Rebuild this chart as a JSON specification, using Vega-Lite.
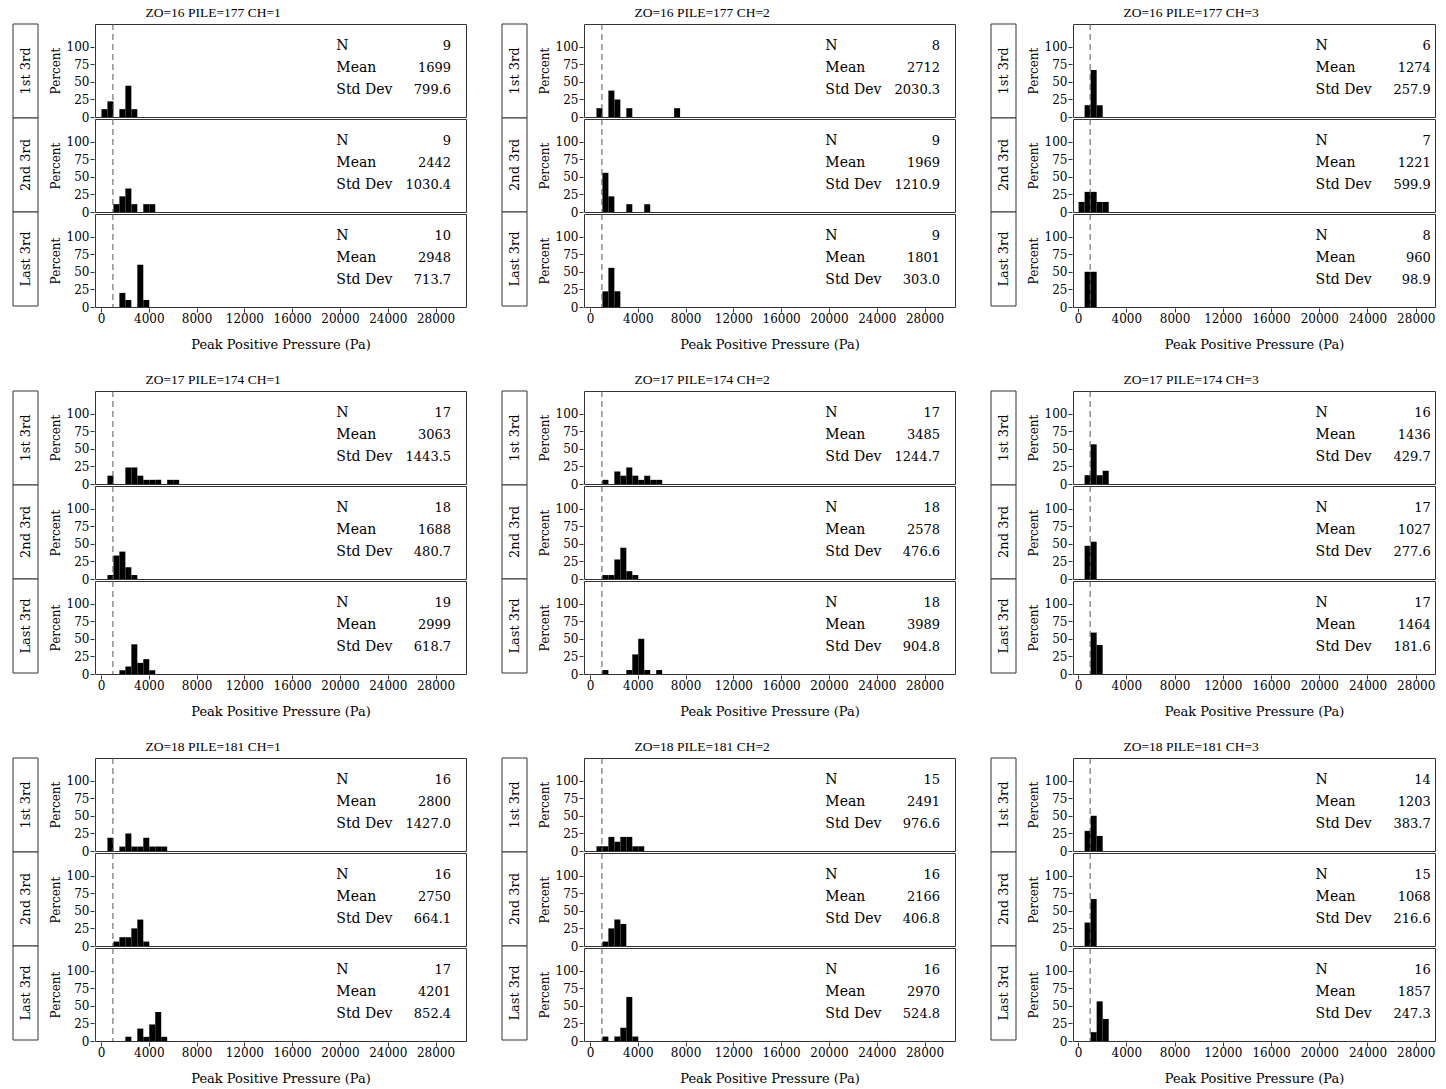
{
"$schema": "https://vega.github.io/schema/vega-lite/v6.json",
"padding": {"left": 12, "top": 5, "right": 0, "bottom": 0},
"config": {
 "font": "DejaVu Serif",
 "view": {"stroke": "#333", "strokeWidth": 1},
 "axis": {"grid": false, "domain": false, "tickColor": "#333", "tickSize": 4, "labelFontSize": 12, "titleFontSize": 13, "titleFontWeight": "normal", "labelColor": "black", "titleColor": "black", "labelPadding": 1, "labelFont": "DejaVu Serif", "titleFont": "DejaVu Serif", "labelOverlap": false},
 "axisY": {"titlePadding": 4, "titleFontSize": 12, "labelOverlap": false},
 "axisX": {"titlePadding": 14},
 "bar": {"binSpacing": 0},
 "title": {"fontSize": 13.5, "fontWeight": "normal", "anchor": "start", "offset": 4, "font": "Liberation Serif", "color": "black"},
 "text": {"fontSize": 14, "font": "DejaVu Serif", "color": "black"}
},
"datasets": {
 "labs": [{"t": "1st 3rd"}, {"t": "2nd 3rd"}, {"t": "Last 3rd"}],
 "d": [
  {"p":"16-1","t":"1st 3rd","n":"9","m":"1699","s":"799.6"},
  {"p":"16-1","t":"2nd 3rd","n":"9","m":"2442","s":"1030.4"},
  {"p":"16-1","t":"Last 3rd","n":"10","m":"2948","s":"713.7"},
  {"p":"16-2","t":"1st 3rd","n":"8","m":"2712","s":"2030.3"},
  {"p":"16-2","t":"2nd 3rd","n":"9","m":"1969","s":"1210.9"},
  {"p":"16-2","t":"Last 3rd","n":"9","m":"1801","s":"303.0"},
  {"p":"16-3","t":"1st 3rd","n":"6","m":"1274","s":"257.9"},
  {"p":"16-3","t":"2nd 3rd","n":"7","m":"1221","s":"599.9"},
  {"p":"16-3","t":"Last 3rd","n":"8","m":"960","s":"98.9"},
  {"p":"17-1","t":"1st 3rd","n":"17","m":"3063","s":"1443.5"},
  {"p":"17-1","t":"2nd 3rd","n":"18","m":"1688","s":"480.7"},
  {"p":"17-1","t":"Last 3rd","n":"19","m":"2999","s":"618.7"},
  {"p":"17-2","t":"1st 3rd","n":"17","m":"3485","s":"1244.7"},
  {"p":"17-2","t":"2nd 3rd","n":"18","m":"2578","s":"476.6"},
  {"p":"17-2","t":"Last 3rd","n":"18","m":"3989","s":"904.8"},
  {"p":"17-3","t":"1st 3rd","n":"16","m":"1436","s":"429.7"},
  {"p":"17-3","t":"2nd 3rd","n":"17","m":"1027","s":"277.6"},
  {"p":"17-3","t":"Last 3rd","n":"17","m":"1464","s":"181.6"},
  {"p":"18-1","t":"1st 3rd","n":"16","m":"2800","s":"1427.0"},
  {"p":"18-1","t":"2nd 3rd","n":"16","m":"2750","s":"664.1"},
  {"p":"18-1","t":"Last 3rd","n":"17","m":"4201","s":"852.4"},
  {"p":"18-2","t":"1st 3rd","n":"15","m":"2491","s":"976.6"},
  {"p":"18-2","t":"2nd 3rd","n":"16","m":"2166","s":"406.8"},
  {"p":"18-2","t":"Last 3rd","n":"16","m":"2970","s":"524.8"},
  {"p":"18-3","t":"1st 3rd","n":"14","m":"1203","s":"383.7"},
  {"p":"18-3","t":"2nd 3rd","n":"15","m":"1068","s":"216.6"},
  {"p":"18-3","t":"Last 3rd","n":"16","m":"1857","s":"247.3"},

  {"p":"16-1","t":"1st 3rd","lo":0,"v":11.1},
  {"p":"16-1","t":"1st 3rd","lo":500,"v":22.2},
  {"p":"16-1","t":"1st 3rd","lo":1500,"v":11.1},
  {"p":"16-1","t":"1st 3rd","lo":2000,"v":44.4},
  {"p":"16-1","t":"1st 3rd","lo":2500,"v":11.1},
  {"p":"16-1","t":"2nd 3rd","lo":1000,"v":11.1},
  {"p":"16-1","t":"2nd 3rd","lo":1500,"v":22.2},
  {"p":"16-1","t":"2nd 3rd","lo":2000,"v":33.3},
  {"p":"16-1","t":"2nd 3rd","lo":2500,"v":11.1},
  {"p":"16-1","t":"2nd 3rd","lo":3500,"v":11.1},
  {"p":"16-1","t":"2nd 3rd","lo":4000,"v":11.1},
  {"p":"16-1","t":"Last 3rd","lo":1500,"v":20},
  {"p":"16-1","t":"Last 3rd","lo":2000,"v":10},
  {"p":"16-1","t":"Last 3rd","lo":3000,"v":60},
  {"p":"16-1","t":"Last 3rd","lo":3500,"v":10},

  {"p":"16-2","t":"1st 3rd","lo":500,"v":12.5},
  {"p":"16-2","t":"1st 3rd","lo":1500,"v":37.5},
  {"p":"16-2","t":"1st 3rd","lo":2000,"v":25},
  {"p":"16-2","t":"1st 3rd","lo":3000,"v":12.5},
  {"p":"16-2","t":"1st 3rd","lo":7000,"v":12.5},
  {"p":"16-2","t":"2nd 3rd","lo":1000,"v":55.6},
  {"p":"16-2","t":"2nd 3rd","lo":1500,"v":22.2},
  {"p":"16-2","t":"2nd 3rd","lo":3000,"v":11.1},
  {"p":"16-2","t":"2nd 3rd","lo":4500,"v":11.1},
  {"p":"16-2","t":"Last 3rd","lo":1000,"v":22.2},
  {"p":"16-2","t":"Last 3rd","lo":1500,"v":55.6},
  {"p":"16-2","t":"Last 3rd","lo":2000,"v":22.2},

  {"p":"16-3","t":"1st 3rd","lo":500,"v":16.7},
  {"p":"16-3","t":"1st 3rd","lo":1000,"v":66.7},
  {"p":"16-3","t":"1st 3rd","lo":1500,"v":16.7},
  {"p":"16-3","t":"2nd 3rd","lo":0,"v":14.3},
  {"p":"16-3","t":"2nd 3rd","lo":500,"v":28.6},
  {"p":"16-3","t":"2nd 3rd","lo":1000,"v":28.6},
  {"p":"16-3","t":"2nd 3rd","lo":1500,"v":14.3},
  {"p":"16-3","t":"2nd 3rd","lo":2000,"v":14.3},
  {"p":"16-3","t":"Last 3rd","lo":500,"v":50},
  {"p":"16-3","t":"Last 3rd","lo":1000,"v":50},

  {"p":"17-1","t":"1st 3rd","lo":500,"v":11.8},
  {"p":"17-1","t":"1st 3rd","lo":2000,"v":23.5},
  {"p":"17-1","t":"1st 3rd","lo":2500,"v":23.5},
  {"p":"17-1","t":"1st 3rd","lo":3000,"v":11.8},
  {"p":"17-1","t":"1st 3rd","lo":3500,"v":5.9},
  {"p":"17-1","t":"1st 3rd","lo":4000,"v":5.9},
  {"p":"17-1","t":"1st 3rd","lo":4500,"v":5.9},
  {"p":"17-1","t":"1st 3rd","lo":5500,"v":5.9},
  {"p":"17-1","t":"1st 3rd","lo":6000,"v":5.9},
  {"p":"17-1","t":"2nd 3rd","lo":500,"v":5.6},
  {"p":"17-1","t":"2nd 3rd","lo":1000,"v":33.3},
  {"p":"17-1","t":"2nd 3rd","lo":1500,"v":38.9},
  {"p":"17-1","t":"2nd 3rd","lo":2000,"v":16.7},
  {"p":"17-1","t":"2nd 3rd","lo":2500,"v":5.6},
  {"p":"17-1","t":"Last 3rd","lo":1500,"v":5.3},
  {"p":"17-1","t":"Last 3rd","lo":2000,"v":10.5},
  {"p":"17-1","t":"Last 3rd","lo":2500,"v":42.1},
  {"p":"17-1","t":"Last 3rd","lo":3000,"v":15.8},
  {"p":"17-1","t":"Last 3rd","lo":3500,"v":21.1},
  {"p":"17-1","t":"Last 3rd","lo":4000,"v":5.3},

  {"p":"17-2","t":"1st 3rd","lo":1000,"v":5.9},
  {"p":"17-2","t":"1st 3rd","lo":2000,"v":17.6},
  {"p":"17-2","t":"1st 3rd","lo":2500,"v":11.8},
  {"p":"17-2","t":"1st 3rd","lo":3000,"v":23.5},
  {"p":"17-2","t":"1st 3rd","lo":3500,"v":11.8},
  {"p":"17-2","t":"1st 3rd","lo":4000,"v":5.9},
  {"p":"17-2","t":"1st 3rd","lo":4500,"v":11.8},
  {"p":"17-2","t":"1st 3rd","lo":5000,"v":5.9},
  {"p":"17-2","t":"1st 3rd","lo":5500,"v":5.9},
  {"p":"17-2","t":"2nd 3rd","lo":1000,"v":5.6},
  {"p":"17-2","t":"2nd 3rd","lo":1500,"v":5.6},
  {"p":"17-2","t":"2nd 3rd","lo":2000,"v":27.8},
  {"p":"17-2","t":"2nd 3rd","lo":2500,"v":44.4},
  {"p":"17-2","t":"2nd 3rd","lo":3000,"v":11.1},
  {"p":"17-2","t":"2nd 3rd","lo":3500,"v":5.6},
  {"p":"17-2","t":"Last 3rd","lo":1000,"v":5.6},
  {"p":"17-2","t":"Last 3rd","lo":3000,"v":5.6},
  {"p":"17-2","t":"Last 3rd","lo":3500,"v":27.8},
  {"p":"17-2","t":"Last 3rd","lo":4000,"v":50},
  {"p":"17-2","t":"Last 3rd","lo":4500,"v":5.6},
  {"p":"17-2","t":"Last 3rd","lo":5500,"v":5.6},

  {"p":"17-3","t":"1st 3rd","lo":500,"v":12.5},
  {"p":"17-3","t":"1st 3rd","lo":1000,"v":56.3},
  {"p":"17-3","t":"1st 3rd","lo":1500,"v":12.5},
  {"p":"17-3","t":"1st 3rd","lo":2000,"v":18.8},
  {"p":"17-3","t":"2nd 3rd","lo":500,"v":47.1},
  {"p":"17-3","t":"2nd 3rd","lo":1000,"v":52.9},
  {"p":"17-3","t":"Last 3rd","lo":1000,"v":58.8},
  {"p":"17-3","t":"Last 3rd","lo":1500,"v":41.2},

  {"p":"18-1","t":"1st 3rd","lo":500,"v":18.8},
  {"p":"18-1","t":"1st 3rd","lo":1500,"v":6.3},
  {"p":"18-1","t":"1st 3rd","lo":2000,"v":25},
  {"p":"18-1","t":"1st 3rd","lo":2500,"v":6.3},
  {"p":"18-1","t":"1st 3rd","lo":3000,"v":6.3},
  {"p":"18-1","t":"1st 3rd","lo":3500,"v":18.8},
  {"p":"18-1","t":"1st 3rd","lo":4000,"v":6.3},
  {"p":"18-1","t":"1st 3rd","lo":4500,"v":6.3},
  {"p":"18-1","t":"1st 3rd","lo":5000,"v":6.3},
  {"p":"18-1","t":"2nd 3rd","lo":1000,"v":6.3},
  {"p":"18-1","t":"2nd 3rd","lo":1500,"v":12.5},
  {"p":"18-1","t":"2nd 3rd","lo":2000,"v":12.5},
  {"p":"18-1","t":"2nd 3rd","lo":2500,"v":25},
  {"p":"18-1","t":"2nd 3rd","lo":3000,"v":37.5},
  {"p":"18-1","t":"2nd 3rd","lo":3500,"v":6.3},
  {"p":"18-1","t":"Last 3rd","lo":2000,"v":5.9},
  {"p":"18-1","t":"Last 3rd","lo":3000,"v":17.6},
  {"p":"18-1","t":"Last 3rd","lo":3500,"v":5.9},
  {"p":"18-1","t":"Last 3rd","lo":4000,"v":23.5},
  {"p":"18-1","t":"Last 3rd","lo":4500,"v":41.2},
  {"p":"18-1","t":"Last 3rd","lo":5000,"v":5.9},

  {"p":"18-2","t":"1st 3rd","lo":500,"v":6.7},
  {"p":"18-2","t":"1st 3rd","lo":1000,"v":6.7},
  {"p":"18-2","t":"1st 3rd","lo":1500,"v":20},
  {"p":"18-2","t":"1st 3rd","lo":2000,"v":13.3},
  {"p":"18-2","t":"1st 3rd","lo":2500,"v":20},
  {"p":"18-2","t":"1st 3rd","lo":3000,"v":20},
  {"p":"18-2","t":"1st 3rd","lo":3500,"v":6.7},
  {"p":"18-2","t":"1st 3rd","lo":4000,"v":6.7},
  {"p":"18-2","t":"2nd 3rd","lo":1000,"v":6.3},
  {"p":"18-2","t":"2nd 3rd","lo":1500,"v":25},
  {"p":"18-2","t":"2nd 3rd","lo":2000,"v":37.5},
  {"p":"18-2","t":"2nd 3rd","lo":2500,"v":31.3},
  {"p":"18-2","t":"Last 3rd","lo":1000,"v":6.3},
  {"p":"18-2","t":"Last 3rd","lo":2000,"v":6.3},
  {"p":"18-2","t":"Last 3rd","lo":2500,"v":18.8},
  {"p":"18-2","t":"Last 3rd","lo":3000,"v":62.5},
  {"p":"18-2","t":"Last 3rd","lo":3500,"v":6.3},

  {"p":"18-3","t":"1st 3rd","lo":500,"v":28.6},
  {"p":"18-3","t":"1st 3rd","lo":1000,"v":50},
  {"p":"18-3","t":"1st 3rd","lo":1500,"v":21.4},
  {"p":"18-3","t":"2nd 3rd","lo":500,"v":33.3},
  {"p":"18-3","t":"2nd 3rd","lo":1000,"v":66.7},
  {"p":"18-3","t":"Last 3rd","lo":1000,"v":12.5},
  {"p":"18-3","t":"Last 3rd","lo":1500,"v":56.3},
  {"p":"18-3","t":"Last 3rd","lo":2000,"v":31.3}
 ]
},
"vconcat": [
 {"spacing": 34, "hconcat": [
  {"spacing": 10, "title": {"text": "ZO=16  PILE=177  CH=1", "dx": 133}, "hconcat": [
   {"data": {"name": "labs"}, "width": 25, "height": 282, "view": {"stroke": null}, "layer": [
    {"mark": {"type": "rect", "fill": "white", "stroke": "#333"}, "encoding": {"y": {"field": "t", "type": "nominal", "axis": null, "scale": {"paddingInner": 0, "paddingOuter": 0}}}},
    {"mark": {"type": "text", "angle": 270, "fontSize": 13}, "encoding": {"y": {"field": "t", "type": "nominal", "axis": null}, "text": {"field": "t"}}}]},
   {"data": {"name": "d"}, "transform": [{"filter": "datum.p == '16-1'"}], "spacing": 0,
    "facet": {"row": {"field": "t", "type": "nominal", "header": {"labels": false, "title": null}}},
    "spec": {"width": 371, "height": 93, "layer": [
     {"transform": [{"filter": "isValid(datum.lo)"}], "mark": {"type": "bar", "fill": "black"},
      "encoding": {"x": {"field": "lo", "type": "quantitative", "bin": {"binned": true, "step": 500}, "scale": {"domain": [-500, 30550], "nice": false, "zero": false}, "axis": {"values": [0,4000,8000,12000,16000,20000,24000,28000], "format": "d", "title": "Peak Positive Pressure (Pa)", "labelOverlap": false, "tickCount": 10}},
       "y": {"field": "v", "type": "quantitative", "scale": {"domain": [0, 132], "nice": false}, "axis": {"values": [0,25,50,75,100], "title": "Percent", "labelOverlap": false, "tickCount": 5}}}},
     {"transform": [{"filter": "isValid(datum.n)"}], "layer": [
      {"mark": {"type": "rule", "strokeDash": [6,4], "color": "#555"}, "encoding": {"x": {"datum": 1000}}},
      {"mark": {"type": "text", "align": "left", "text": "N"}, "encoding": {"x": {"datum": 19700}, "y": {"datum": 101}}},
      {"mark": {"type": "text", "align": "left", "text": "Mean"}, "encoding": {"x": {"datum": 19700}, "y": {"datum": 70}}},
      {"mark": {"type": "text", "align": "left", "text": "Std Dev"}, "encoding": {"x": {"datum": 19700}, "y": {"datum": 39}}},
      {"mark": {"type": "text", "align": "right", "fontSize": 13}, "encoding": {"x": {"datum": 29300}, "y": {"datum": 101}, "text": {"field": "n"}}},
      {"mark": {"type": "text", "align": "right", "fontSize": 13}, "encoding": {"x": {"datum": 29300}, "y": {"datum": 70}, "text": {"field": "m"}}},
      {"mark": {"type": "text", "align": "right", "fontSize": 13}, "encoding": {"x": {"datum": 29300}, "y": {"datum": 39}, "text": {"field": "s"}}}]}]}}]},
  {"spacing": 10, "title": {"text": "ZO=16  PILE=177  CH=2", "dx": 133}, "hconcat": [
   {"data": {"name": "labs"}, "width": 25, "height": 282, "view": {"stroke": null}, "layer": [
    {"mark": {"type": "rect", "fill": "white", "stroke": "#333"}, "encoding": {"y": {"field": "t", "type": "nominal", "axis": null, "scale": {"paddingInner": 0, "paddingOuter": 0}}}},
    {"mark": {"type": "text", "angle": 270, "fontSize": 13}, "encoding": {"y": {"field": "t", "type": "nominal", "axis": null}, "text": {"field": "t"}}}]},
   {"data": {"name": "d"}, "transform": [{"filter": "datum.p == '16-2'"}], "spacing": 0,
    "facet": {"row": {"field": "t", "type": "nominal", "header": {"labels": false, "title": null}}},
    "spec": {"width": 371, "height": 93, "layer": [
     {"transform": [{"filter": "isValid(datum.lo)"}], "mark": {"type": "bar", "fill": "black"},
      "encoding": {"x": {"field": "lo", "type": "quantitative", "bin": {"binned": true, "step": 500}, "scale": {"domain": [-500, 30550], "nice": false, "zero": false}, "axis": {"values": [0,4000,8000,12000,16000,20000,24000,28000], "format": "d", "title": "Peak Positive Pressure (Pa)", "labelOverlap": false, "tickCount": 10}},
       "y": {"field": "v", "type": "quantitative", "scale": {"domain": [0, 132], "nice": false}, "axis": {"values": [0,25,50,75,100], "title": "Percent", "labelOverlap": false, "tickCount": 5}}}},
     {"transform": [{"filter": "isValid(datum.n)"}], "layer": [
      {"mark": {"type": "rule", "strokeDash": [6,4], "color": "#555"}, "encoding": {"x": {"datum": 1000}}},
      {"mark": {"type": "text", "align": "left", "text": "N"}, "encoding": {"x": {"datum": 19700}, "y": {"datum": 101}}},
      {"mark": {"type": "text", "align": "left", "text": "Mean"}, "encoding": {"x": {"datum": 19700}, "y": {"datum": 70}}},
      {"mark": {"type": "text", "align": "left", "text": "Std Dev"}, "encoding": {"x": {"datum": 19700}, "y": {"datum": 39}}},
      {"mark": {"type": "text", "align": "right", "fontSize": 13}, "encoding": {"x": {"datum": 29300}, "y": {"datum": 101}, "text": {"field": "n"}}},
      {"mark": {"type": "text", "align": "right", "fontSize": 13}, "encoding": {"x": {"datum": 29300}, "y": {"datum": 70}, "text": {"field": "m"}}},
      {"mark": {"type": "text", "align": "right", "fontSize": 13}, "encoding": {"x": {"datum": 29300}, "y": {"datum": 39}, "text": {"field": "s"}}}]}]}}]},
  {"spacing": 10, "title": {"text": "ZO=16  PILE=177  CH=3", "dx": 133}, "hconcat": [
   {"data": {"name": "labs"}, "width": 25, "height": 282, "view": {"stroke": null}, "layer": [
    {"mark": {"type": "rect", "fill": "white", "stroke": "#333"}, "encoding": {"y": {"field": "t", "type": "nominal", "axis": null, "scale": {"paddingInner": 0, "paddingOuter": 0}}}},
    {"mark": {"type": "text", "angle": 270, "fontSize": 13}, "encoding": {"y": {"field": "t", "type": "nominal", "axis": null}, "text": {"field": "t"}}}]},
   {"data": {"name": "d"}, "transform": [{"filter": "datum.p == '16-3'"}], "spacing": 0,
    "facet": {"row": {"field": "t", "type": "nominal", "header": {"labels": false, "title": null}}},
    "spec": {"width": 362, "height": 93, "layer": [
     {"transform": [{"filter": "isValid(datum.lo)"}], "mark": {"type": "bar", "fill": "black"},
      "encoding": {"x": {"field": "lo", "type": "quantitative", "bin": {"binned": true, "step": 500}, "scale": {"domain": [-420, 29600], "nice": false, "zero": false}, "axis": {"values": [0,4000,8000,12000,16000,20000,24000,28000], "format": "d", "title": "Peak Positive Pressure (Pa)", "labelOverlap": false, "tickCount": 10}},
       "y": {"field": "v", "type": "quantitative", "scale": {"domain": [0, 132], "nice": false}, "axis": {"values": [0,25,50,75,100], "title": "Percent", "labelOverlap": false, "tickCount": 5}}}},
     {"transform": [{"filter": "isValid(datum.n)"}], "layer": [
      {"mark": {"type": "rule", "strokeDash": [6,4], "color": "#555"}, "encoding": {"x": {"datum": 1000}}},
      {"mark": {"type": "text", "align": "left", "text": "N"}, "encoding": {"x": {"datum": 19700}, "y": {"datum": 101}}},
      {"mark": {"type": "text", "align": "left", "text": "Mean"}, "encoding": {"x": {"datum": 19700}, "y": {"datum": 70}}},
      {"mark": {"type": "text", "align": "left", "text": "Std Dev"}, "encoding": {"x": {"datum": 19700}, "y": {"datum": 39}}},
      {"mark": {"type": "text", "align": "right", "fontSize": 13}, "encoding": {"x": {"datum": 29250}, "y": {"datum": 101}, "text": {"field": "n"}}},
      {"mark": {"type": "text", "align": "right", "fontSize": 13}, "encoding": {"x": {"datum": 29250}, "y": {"datum": 70}, "text": {"field": "m"}}},
      {"mark": {"type": "text", "align": "right", "fontSize": 13}, "encoding": {"x": {"datum": 29250}, "y": {"datum": 39}, "text": {"field": "s"}}}]}]}}]}
 ]},
 {"spacing": 34, "hconcat": [
  {"spacing": 10, "title": {"text": "ZO=17  PILE=174  CH=1", "dx": 133}, "hconcat": [
   {"data": {"name": "labs"}, "width": 25, "height": 282, "view": {"stroke": null}, "layer": [
    {"mark": {"type": "rect", "fill": "white", "stroke": "#333"}, "encoding": {"y": {"field": "t", "type": "nominal", "axis": null, "scale": {"paddingInner": 0, "paddingOuter": 0}}}},
    {"mark": {"type": "text", "angle": 270, "fontSize": 13}, "encoding": {"y": {"field": "t", "type": "nominal", "axis": null}, "text": {"field": "t"}}}]},
   {"data": {"name": "d"}, "transform": [{"filter": "datum.p == '17-1'"}], "spacing": 0,
    "facet": {"row": {"field": "t", "type": "nominal", "header": {"labels": false, "title": null}}},
    "spec": {"width": 371, "height": 93, "layer": [
     {"transform": [{"filter": "isValid(datum.lo)"}], "mark": {"type": "bar", "fill": "black"},
      "encoding": {"x": {"field": "lo", "type": "quantitative", "bin": {"binned": true, "step": 500}, "scale": {"domain": [-500, 30550], "nice": false, "zero": false}, "axis": {"values": [0,4000,8000,12000,16000,20000,24000,28000], "format": "d", "title": "Peak Positive Pressure (Pa)", "labelOverlap": false, "tickCount": 10}},
       "y": {"field": "v", "type": "quantitative", "scale": {"domain": [0, 132], "nice": false}, "axis": {"values": [0,25,50,75,100], "title": "Percent", "labelOverlap": false, "tickCount": 5}}}},
     {"transform": [{"filter": "isValid(datum.n)"}], "layer": [
      {"mark": {"type": "rule", "strokeDash": [6,4], "color": "#555"}, "encoding": {"x": {"datum": 1000}}},
      {"mark": {"type": "text", "align": "left", "text": "N"}, "encoding": {"x": {"datum": 19700}, "y": {"datum": 101}}},
      {"mark": {"type": "text", "align": "left", "text": "Mean"}, "encoding": {"x": {"datum": 19700}, "y": {"datum": 70}}},
      {"mark": {"type": "text", "align": "left", "text": "Std Dev"}, "encoding": {"x": {"datum": 19700}, "y": {"datum": 39}}},
      {"mark": {"type": "text", "align": "right", "fontSize": 13}, "encoding": {"x": {"datum": 29300}, "y": {"datum": 101}, "text": {"field": "n"}}},
      {"mark": {"type": "text", "align": "right", "fontSize": 13}, "encoding": {"x": {"datum": 29300}, "y": {"datum": 70}, "text": {"field": "m"}}},
      {"mark": {"type": "text", "align": "right", "fontSize": 13}, "encoding": {"x": {"datum": 29300}, "y": {"datum": 39}, "text": {"field": "s"}}}]}]}}]},
  {"spacing": 10, "title": {"text": "ZO=17  PILE=174  CH=2", "dx": 133}, "hconcat": [
   {"data": {"name": "labs"}, "width": 25, "height": 282, "view": {"stroke": null}, "layer": [
    {"mark": {"type": "rect", "fill": "white", "stroke": "#333"}, "encoding": {"y": {"field": "t", "type": "nominal", "axis": null, "scale": {"paddingInner": 0, "paddingOuter": 0}}}},
    {"mark": {"type": "text", "angle": 270, "fontSize": 13}, "encoding": {"y": {"field": "t", "type": "nominal", "axis": null}, "text": {"field": "t"}}}]},
   {"data": {"name": "d"}, "transform": [{"filter": "datum.p == '17-2'"}], "spacing": 0,
    "facet": {"row": {"field": "t", "type": "nominal", "header": {"labels": false, "title": null}}},
    "spec": {"width": 371, "height": 93, "layer": [
     {"transform": [{"filter": "isValid(datum.lo)"}], "mark": {"type": "bar", "fill": "black"},
      "encoding": {"x": {"field": "lo", "type": "quantitative", "bin": {"binned": true, "step": 500}, "scale": {"domain": [-500, 30550], "nice": false, "zero": false}, "axis": {"values": [0,4000,8000,12000,16000,20000,24000,28000], "format": "d", "title": "Peak Positive Pressure (Pa)", "labelOverlap": false, "tickCount": 10}},
       "y": {"field": "v", "type": "quantitative", "scale": {"domain": [0, 132], "nice": false}, "axis": {"values": [0,25,50,75,100], "title": "Percent", "labelOverlap": false, "tickCount": 5}}}},
     {"transform": [{"filter": "isValid(datum.n)"}], "layer": [
      {"mark": {"type": "rule", "strokeDash": [6,4], "color": "#555"}, "encoding": {"x": {"datum": 1000}}},
      {"mark": {"type": "text", "align": "left", "text": "N"}, "encoding": {"x": {"datum": 19700}, "y": {"datum": 101}}},
      {"mark": {"type": "text", "align": "left", "text": "Mean"}, "encoding": {"x": {"datum": 19700}, "y": {"datum": 70}}},
      {"mark": {"type": "text", "align": "left", "text": "Std Dev"}, "encoding": {"x": {"datum": 19700}, "y": {"datum": 39}}},
      {"mark": {"type": "text", "align": "right", "fontSize": 13}, "encoding": {"x": {"datum": 29300}, "y": {"datum": 101}, "text": {"field": "n"}}},
      {"mark": {"type": "text", "align": "right", "fontSize": 13}, "encoding": {"x": {"datum": 29300}, "y": {"datum": 70}, "text": {"field": "m"}}},
      {"mark": {"type": "text", "align": "right", "fontSize": 13}, "encoding": {"x": {"datum": 29300}, "y": {"datum": 39}, "text": {"field": "s"}}}]}]}}]},
  {"spacing": 10, "title": {"text": "ZO=17  PILE=174  CH=3", "dx": 133}, "hconcat": [
   {"data": {"name": "labs"}, "width": 25, "height": 282, "view": {"stroke": null}, "layer": [
    {"mark": {"type": "rect", "fill": "white", "stroke": "#333"}, "encoding": {"y": {"field": "t", "type": "nominal", "axis": null, "scale": {"paddingInner": 0, "paddingOuter": 0}}}},
    {"mark": {"type": "text", "angle": 270, "fontSize": 13}, "encoding": {"y": {"field": "t", "type": "nominal", "axis": null}, "text": {"field": "t"}}}]},
   {"data": {"name": "d"}, "transform": [{"filter": "datum.p == '17-3'"}], "spacing": 0,
    "facet": {"row": {"field": "t", "type": "nominal", "header": {"labels": false, "title": null}}},
    "spec": {"width": 362, "height": 93, "layer": [
     {"transform": [{"filter": "isValid(datum.lo)"}], "mark": {"type": "bar", "fill": "black"},
      "encoding": {"x": {"field": "lo", "type": "quantitative", "bin": {"binned": true, "step": 500}, "scale": {"domain": [-420, 29600], "nice": false, "zero": false}, "axis": {"values": [0,4000,8000,12000,16000,20000,24000,28000], "format": "d", "title": "Peak Positive Pressure (Pa)", "labelOverlap": false, "tickCount": 10}},
       "y": {"field": "v", "type": "quantitative", "scale": {"domain": [0, 132], "nice": false}, "axis": {"values": [0,25,50,75,100], "title": "Percent", "labelOverlap": false, "tickCount": 5}}}},
     {"transform": [{"filter": "isValid(datum.n)"}], "layer": [
      {"mark": {"type": "rule", "strokeDash": [6,4], "color": "#555"}, "encoding": {"x": {"datum": 1000}}},
      {"mark": {"type": "text", "align": "left", "text": "N"}, "encoding": {"x": {"datum": 19700}, "y": {"datum": 101}}},
      {"mark": {"type": "text", "align": "left", "text": "Mean"}, "encoding": {"x": {"datum": 19700}, "y": {"datum": 70}}},
      {"mark": {"type": "text", "align": "left", "text": "Std Dev"}, "encoding": {"x": {"datum": 19700}, "y": {"datum": 39}}},
      {"mark": {"type": "text", "align": "right", "fontSize": 13}, "encoding": {"x": {"datum": 29250}, "y": {"datum": 101}, "text": {"field": "n"}}},
      {"mark": {"type": "text", "align": "right", "fontSize": 13}, "encoding": {"x": {"datum": 29250}, "y": {"datum": 70}, "text": {"field": "m"}}},
      {"mark": {"type": "text", "align": "right", "fontSize": 13}, "encoding": {"x": {"datum": 29250}, "y": {"datum": 39}, "text": {"field": "s"}}}]}]}}]}
 ]},
 {"spacing": 34, "hconcat": [
  {"spacing": 10, "title": {"text": "ZO=18  PILE=181  CH=1", "dx": 133}, "hconcat": [
   {"data": {"name": "labs"}, "width": 25, "height": 282, "view": {"stroke": null}, "layer": [
    {"mark": {"type": "rect", "fill": "white", "stroke": "#333"}, "encoding": {"y": {"field": "t", "type": "nominal", "axis": null, "scale": {"paddingInner": 0, "paddingOuter": 0}}}},
    {"mark": {"type": "text", "angle": 270, "fontSize": 13}, "encoding": {"y": {"field": "t", "type": "nominal", "axis": null}, "text": {"field": "t"}}}]},
   {"data": {"name": "d"}, "transform": [{"filter": "datum.p == '18-1'"}], "spacing": 0,
    "facet": {"row": {"field": "t", "type": "nominal", "header": {"labels": false, "title": null}}},
    "spec": {"width": 371, "height": 93, "layer": [
     {"transform": [{"filter": "isValid(datum.lo)"}], "mark": {"type": "bar", "fill": "black"},
      "encoding": {"x": {"field": "lo", "type": "quantitative", "bin": {"binned": true, "step": 500}, "scale": {"domain": [-500, 30550], "nice": false, "zero": false}, "axis": {"values": [0,4000,8000,12000,16000,20000,24000,28000], "format": "d", "title": "Peak Positive Pressure (Pa)", "labelOverlap": false, "tickCount": 10}},
       "y": {"field": "v", "type": "quantitative", "scale": {"domain": [0, 132], "nice": false}, "axis": {"values": [0,25,50,75,100], "title": "Percent", "labelOverlap": false, "tickCount": 5}}}},
     {"transform": [{"filter": "isValid(datum.n)"}], "layer": [
      {"mark": {"type": "rule", "strokeDash": [6,4], "color": "#555"}, "encoding": {"x": {"datum": 1000}}},
      {"mark": {"type": "text", "align": "left", "text": "N"}, "encoding": {"x": {"datum": 19700}, "y": {"datum": 101}}},
      {"mark": {"type": "text", "align": "left", "text": "Mean"}, "encoding": {"x": {"datum": 19700}, "y": {"datum": 70}}},
      {"mark": {"type": "text", "align": "left", "text": "Std Dev"}, "encoding": {"x": {"datum": 19700}, "y": {"datum": 39}}},
      {"mark": {"type": "text", "align": "right", "fontSize": 13}, "encoding": {"x": {"datum": 29300}, "y": {"datum": 101}, "text": {"field": "n"}}},
      {"mark": {"type": "text", "align": "right", "fontSize": 13}, "encoding": {"x": {"datum": 29300}, "y": {"datum": 70}, "text": {"field": "m"}}},
      {"mark": {"type": "text", "align": "right", "fontSize": 13}, "encoding": {"x": {"datum": 29300}, "y": {"datum": 39}, "text": {"field": "s"}}}]}]}}]},
  {"spacing": 10, "title": {"text": "ZO=18  PILE=181  CH=2", "dx": 133}, "hconcat": [
   {"data": {"name": "labs"}, "width": 25, "height": 282, "view": {"stroke": null}, "layer": [
    {"mark": {"type": "rect", "fill": "white", "stroke": "#333"}, "encoding": {"y": {"field": "t", "type": "nominal", "axis": null, "scale": {"paddingInner": 0, "paddingOuter": 0}}}},
    {"mark": {"type": "text", "angle": 270, "fontSize": 13}, "encoding": {"y": {"field": "t", "type": "nominal", "axis": null}, "text": {"field": "t"}}}]},
   {"data": {"name": "d"}, "transform": [{"filter": "datum.p == '18-2'"}], "spacing": 0,
    "facet": {"row": {"field": "t", "type": "nominal", "header": {"labels": false, "title": null}}},
    "spec": {"width": 371, "height": 93, "layer": [
     {"transform": [{"filter": "isValid(datum.lo)"}], "mark": {"type": "bar", "fill": "black"},
      "encoding": {"x": {"field": "lo", "type": "quantitative", "bin": {"binned": true, "step": 500}, "scale": {"domain": [-500, 30550], "nice": false, "zero": false}, "axis": {"values": [0,4000,8000,12000,16000,20000,24000,28000], "format": "d", "title": "Peak Positive Pressure (Pa)", "labelOverlap": false, "tickCount": 10}},
       "y": {"field": "v", "type": "quantitative", "scale": {"domain": [0, 132], "nice": false}, "axis": {"values": [0,25,50,75,100], "title": "Percent", "labelOverlap": false, "tickCount": 5}}}},
     {"transform": [{"filter": "isValid(datum.n)"}], "layer": [
      {"mark": {"type": "rule", "strokeDash": [6,4], "color": "#555"}, "encoding": {"x": {"datum": 1000}}},
      {"mark": {"type": "text", "align": "left", "text": "N"}, "encoding": {"x": {"datum": 19700}, "y": {"datum": 101}}},
      {"mark": {"type": "text", "align": "left", "text": "Mean"}, "encoding": {"x": {"datum": 19700}, "y": {"datum": 70}}},
      {"mark": {"type": "text", "align": "left", "text": "Std Dev"}, "encoding": {"x": {"datum": 19700}, "y": {"datum": 39}}},
      {"mark": {"type": "text", "align": "right", "fontSize": 13}, "encoding": {"x": {"datum": 29300}, "y": {"datum": 101}, "text": {"field": "n"}}},
      {"mark": {"type": "text", "align": "right", "fontSize": 13}, "encoding": {"x": {"datum": 29300}, "y": {"datum": 70}, "text": {"field": "m"}}},
      {"mark": {"type": "text", "align": "right", "fontSize": 13}, "encoding": {"x": {"datum": 29300}, "y": {"datum": 39}, "text": {"field": "s"}}}]}]}}]},
  {"spacing": 10, "title": {"text": "ZO=18  PILE=181  CH=3", "dx": 133}, "hconcat": [
   {"data": {"name": "labs"}, "width": 25, "height": 282, "view": {"stroke": null}, "layer": [
    {"mark": {"type": "rect", "fill": "white", "stroke": "#333"}, "encoding": {"y": {"field": "t", "type": "nominal", "axis": null, "scale": {"paddingInner": 0, "paddingOuter": 0}}}},
    {"mark": {"type": "text", "angle": 270, "fontSize": 13}, "encoding": {"y": {"field": "t", "type": "nominal", "axis": null}, "text": {"field": "t"}}}]},
   {"data": {"name": "d"}, "transform": [{"filter": "datum.p == '18-3'"}], "spacing": 0,
    "facet": {"row": {"field": "t", "type": "nominal", "header": {"labels": false, "title": null}}},
    "spec": {"width": 362, "height": 93, "layer": [
     {"transform": [{"filter": "isValid(datum.lo)"}], "mark": {"type": "bar", "fill": "black"},
      "encoding": {"x": {"field": "lo", "type": "quantitative", "bin": {"binned": true, "step": 500}, "scale": {"domain": [-420, 29600], "nice": false, "zero": false}, "axis": {"values": [0,4000,8000,12000,16000,20000,24000,28000], "format": "d", "title": "Peak Positive Pressure (Pa)", "labelOverlap": false, "tickCount": 10}},
       "y": {"field": "v", "type": "quantitative", "scale": {"domain": [0, 132], "nice": false}, "axis": {"values": [0,25,50,75,100], "title": "Percent", "labelOverlap": false, "tickCount": 5}}}},
     {"transform": [{"filter": "isValid(datum.n)"}], "layer": [
      {"mark": {"type": "rule", "strokeDash": [6,4], "color": "#555"}, "encoding": {"x": {"datum": 1000}}},
      {"mark": {"type": "text", "align": "left", "text": "N"}, "encoding": {"x": {"datum": 19700}, "y": {"datum": 101}}},
      {"mark": {"type": "text", "align": "left", "text": "Mean"}, "encoding": {"x": {"datum": 19700}, "y": {"datum": 70}}},
      {"mark": {"type": "text", "align": "left", "text": "Std Dev"}, "encoding": {"x": {"datum": 19700}, "y": {"datum": 39}}},
      {"mark": {"type": "text", "align": "right", "fontSize": 13}, "encoding": {"x": {"datum": 29250}, "y": {"datum": 101}, "text": {"field": "n"}}},
      {"mark": {"type": "text", "align": "right", "fontSize": 13}, "encoding": {"x": {"datum": 29250}, "y": {"datum": 70}, "text": {"field": "m"}}},
      {"mark": {"type": "text", "align": "right", "fontSize": 13}, "encoding": {"x": {"datum": 29250}, "y": {"datum": 39}, "text": {"field": "s"}}}]}]}}]}
 ]}
],
"spacing": 21
}
